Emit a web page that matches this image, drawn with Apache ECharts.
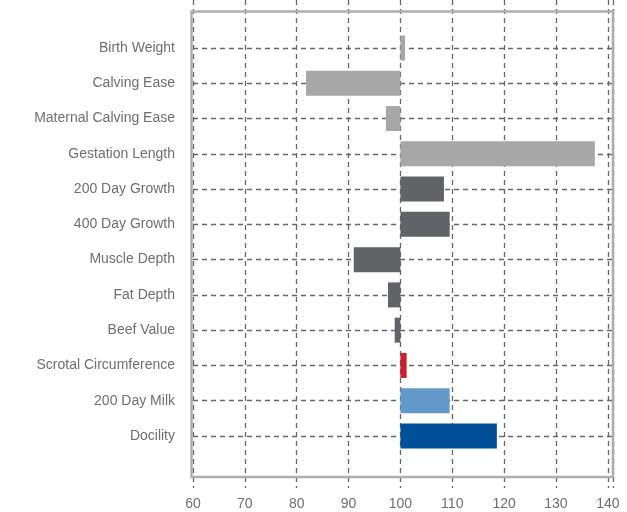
<!DOCTYPE html>
<html>
<head>
<meta charset="utf-8">
<script src="https://cdn.jsdelivr.net/npm/echarts@6/dist/echarts.min.js"></script>
<style>
  html, body { margin: 0; padding: 0; background: #fff; }
  #chart { width: 627px; height: 512px; }
</style>
</head>
<body>
<div id="chart"></div>
<script>
const categories = [
  'Birth Weight', 'Calving Ease', 'Maternal Calving Ease', 'Gestation Length',
  '200 Day Growth', '400 Day Growth', 'Muscle Depth', 'Fat Depth',
  'Beef Value', 'Scrotal Circumference', '200 Day Milk', 'Docility'
]
const values = [100.9, 81.8, 97.2, 137.5, 108.4, 109.5, 91.0, 97.6, 98.9, 101.2, 109.5, 118.6]
const baseline = 100
const xTicks = [60, 70, 80, 90, 100, 110, 120, 130, 140]

const barColors = [
  '#a7a7a7', '#a7a7a7', '#a7a7a7', '#a7a7a7',
  '#626367', '#626367', '#626367', '#626367', '#626367',
  '#c8202f', '#6399c8', '#004f98'
]

const textColor = '#6d6e71'
const gridLine = { color: '#666', width: 1.3, type: [5, 4] }
const font = "'Liberation Sans', Arial, sans-serif"

// stacked: invisible part up to the lower end, visible part from there to the top end
const lowPart = values.map(v => Math.min(v, baseline))
const diffPart = values.map((v, i) => ({
  value: Math.abs(v - baseline),
  itemStyle: { color: barColors[i] }
}))

const chart = echarts.init(document.getElementById('chart'))
chart.setOption({
  animation: false,
  grid: [
    { left: 193, right: 14, top: 0, bottom: 24 },
    { left: 193, right: 14, top: 48, bottom: 76 }
  ],
  xAxis: [
    {
      gridIndex: 0, type: 'value', min: 60, max: 141, interval: 10,
      axisLine: { show: false }, axisTick: { show: false },
      splitLine: { show: true, lineStyle: gridLine },
      axisLabel: {
        color: textColor, fontSize: 14, fontFamily: font, margin: 9,
        showMaxLabel: false,
        formatter: v => xTicks.includes(v) ? String(v) : ''
      }
    },
    { gridIndex: 1, type: 'value', min: 60, max: 141, show: false }
  ],
  yAxis: [
    { gridIndex: 0, type: 'value', show: false },
    {
      gridIndex: 1, type: 'category', data: categories, inverse: true, boundaryGap: false,
      axisLine: { show: false }, axisTick: { show: false },
      splitLine: { show: true, lineStyle: gridLine },
      axisLabel: { color: textColor, fontSize: 14, fontFamily: font, margin: 18 }
    }
  ],
  graphic: [{
    type: 'rect', z: 10, silent: true,
    shape: { x: 191.5, y: 11.5, width: 421.5, height: 465.5 },
    style: { fill: 'none', stroke: '#adadad', lineWidth: 2.5 }
  }],
  series: [
    {
      type: 'bar', xAxisIndex: 1, yAxisIndex: 1, stack: 'b', barWidth: 25,
      itemStyle: { color: 'transparent' }, data: lowPart, silent: true
    },
    {
      type: 'bar', xAxisIndex: 1, yAxisIndex: 1, stack: 'b', barWidth: 25,
      data: diffPart
    }
  ]
})
</script>
</body>
</html>
